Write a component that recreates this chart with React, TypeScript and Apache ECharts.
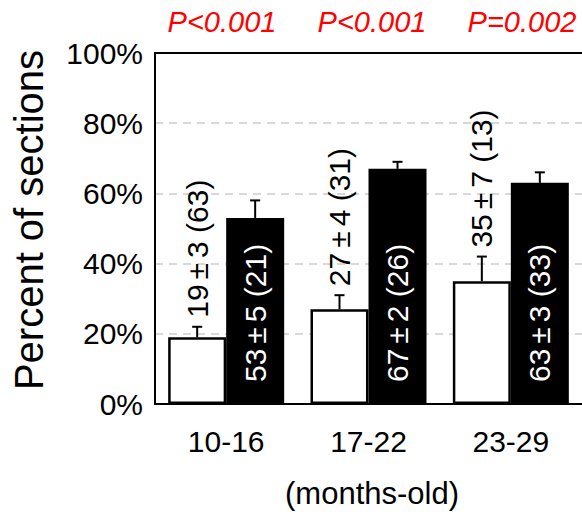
import React, { useEffect, useRef } from 'react';
import * as echarts from 'echarts';

const categories = ['10-16', '17-22', '23-29'];
const whiteValues = [19, 27, 35];
const whiteErrors = [3, 4, 7];
const whiteN = [63, 31, 13];
const blackValues = [53, 67, 63];
const blackErrors = [5, 2, 3];
const blackN = [21, 26, 33];
const pLabels = ['P<0.001', 'P<0.001', 'P=0.002'];
const pLabelX = [222, 372, 522];

const FONT = '"Liberation Sans", Arial, Helvetica, sans-serif';
const BAR_W = 58;

function makeErrorSeries(values: number[], errors: number[], ns: number[], side: 'white' | 'black') {
  return {
    type: 'custom',
    z: 5,
    data: values.map((v, i) => [i, v, errors[i], ns[i]]),
    renderItem: (params: any, api: any) => {
      const i = api.value(0);
      const v = api.value(1);
      const e = api.value(2);
      const n = api.value(3);
      const base = api.coord([i, 0]);
      const c = api.coord([i, v]);
      const t = api.coord([i, v + e]);
      const x = c[0] + (side === 'white' ? -BAR_W / 2 : BAR_W / 2);
      const children: any[] = [
        { type: 'line', shape: { x1: x, y1: c[1], x2: x, y2: t[1] }, style: { stroke: '#000', lineWidth: 2 } },
        { type: 'line', shape: { x1: x - 5, y1: t[1], x2: x + 5, y2: t[1] }, style: { stroke: '#000', lineWidth: 2 } },
      ];
      const text = `${v}\u2006±\u2006${e} (${n})`;
      if (side === 'white') {
        children.push({
          type: 'text', x: x, y: t[1] - 9, rotation: Math.PI / 2,
          style: { text, fill: '#000', fontSize: 30, fontFamily: FONT, align: 'left', verticalAlign: 'middle' },
        });
      } else {
        children.push({
          type: 'text', x: x, y: base[1] - 22, rotation: Math.PI / 2,
          style: { text, fill: '#fff', fontSize: 30, fontFamily: FONT, align: 'left', verticalAlign: 'middle' },
        });
      }
      return { type: 'group', children };
    },
  };
}

export default function App() {
  const ref = useRef<HTMLDivElement>(null);
  useEffect(() => {
    document.body.style.margin = '0';
    const chart = echarts.init(ref.current!, undefined, { renderer: 'svg' });
    chart.setOption({
      animation: false,
      backgroundColor: '#fff',
      textStyle: { fontFamily: FONT },
      grid: { left: 155, top: 53, width: 429, height: 351 },
      xAxis: [
        {
          type: 'category', data: categories, position: 'bottom',
          axisLine: { show: true, lineStyle: { color: '#000', width: 2 } },
          axisTick: { show: false },
          axisLabel: { fontSize: 30, color: '#000', margin: 22, fontFamily: FONT },
        },
        {
          type: 'category', data: categories, position: 'top',
          axisLine: { show: true, lineStyle: { color: '#000', width: 2 } },
          axisTick: { show: false },
          axisLabel: { show: false },
        },
      ],
      yAxis: {
        type: 'value', min: 0, max: 100, interval: 20,
        axisLine: { show: true, lineStyle: { color: '#000', width: 2 } },
        axisTick: { show: false },
        axisLabel: { formatter: '{value}%', fontSize: 30, color: '#000', margin: 12, fontFamily: FONT },
        splitLine: { show: true, lineStyle: { color: '#cccccc', width: 1.5, type: [8, 6] } },
      },
      series: [
        {
          type: 'bar', data: whiteValues, barWidth: BAR_W, barGap: '0%',
          itemStyle: { color: '#fff', borderColor: '#000', borderWidth: 2.5 },
        },
        {
          type: 'bar', data: blackValues, barWidth: BAR_W, barGap: '0%',
          itemStyle: { color: '#000', borderColor: '#000', borderWidth: 0 },
        },
        makeErrorSeries(whiteValues, whiteErrors, whiteN, 'white'),
        makeErrorSeries(blackValues, blackErrors, blackN, 'black'),
      ],
      graphic: [
        {
          type: 'text', x: 29, y: 220, rotation: Math.PI / 2,
          style: { text: 'Percent of sections', fontSize: 40, fontFamily: FONT, fill: '#000', align: 'center', verticalAlign: 'middle' },
        },
        {
          type: 'text', x: 372, y: 493,
          style: { text: '(months-old)', fontSize: 31, fontFamily: FONT, fill: '#000', align: 'center', verticalAlign: 'middle' },
        },
        ...pLabels.map((p, i) => ({
          type: 'text', x: pLabelX[i], y: 22,
          style: { text: p, fontSize: 29, fontStyle: 'italic', fontFamily: FONT, fill: '#ff0000', align: 'center', verticalAlign: 'middle' },
        })),
      ],
    });
    return () => chart.dispose();
  }, []);
  return <div ref={ref} style={{ position: 'absolute', left: 0, top: 0, width: 582, height: 512 }} />;
}
